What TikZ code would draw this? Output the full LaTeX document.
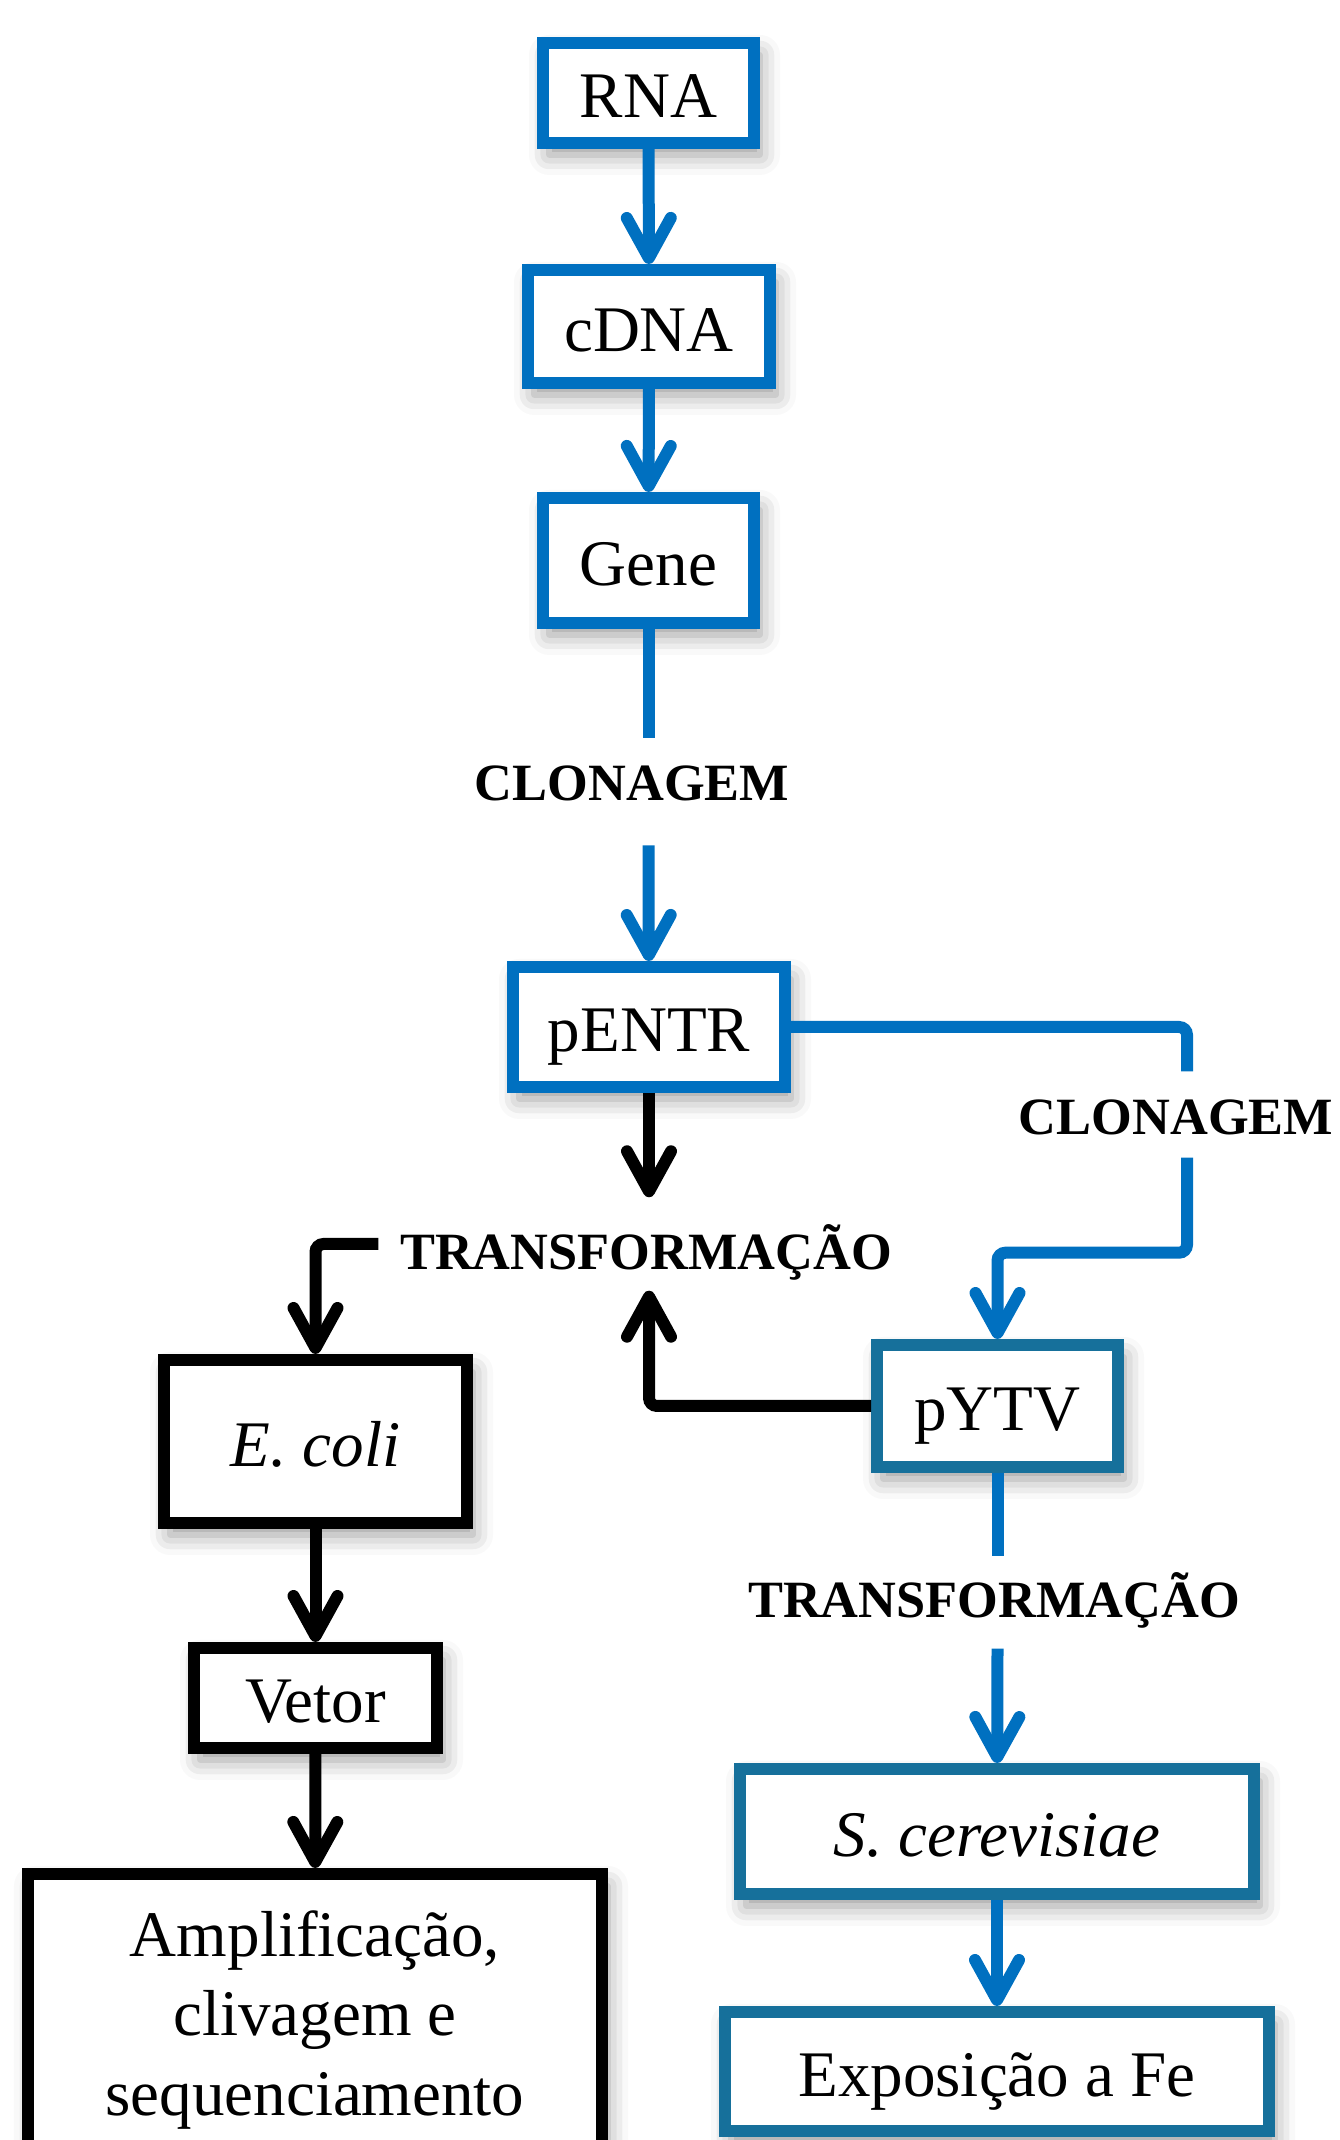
\documentclass[tikz,border=0pt]{standalone}
\usepackage{fontspec}
\setmainfont{Liberation Serif}
\usetikzlibrary{arrows.meta,positioning,calc,shadows.blur}
\definecolor{stepblue}{RGB}{0,112,192}
\definecolor{yeastblue}{RGB}{22,112,155}
\tikzset{
  stage/.style={draw,line width=1.2mm,fill=white,inner sep=0pt,align=center,
                text height=0.65cm,text depth=0.15cm,
                font=\fontsize{18.5}{22.5}\selectfont,
                blur shadow={shadow xshift=0.6mm,shadow yshift=-1.2mm,
                             shadow blur radius=2mm,shadow opacity=40}},
  bluestage/.style={stage,draw=stepblue},
  yeaststage/.style={stage,draw=yeastblue},
  blackstage/.style={stage,draw=black},
  tag/.style={font=\fontsize{14.9}{18}\selectfont\bfseries,anchor=base,
              inner xsep=2.1mm,inner ysep=0pt},
  flow/.style={draw=stepblue,line width=1.2mm,rounded corners=0.8mm},
  flowk/.style={flow,draw=black},
  into/.style={-{Straight Barb[length=4mm,width=4.4mm,round]}},
}

\begin{document}
\begin{tikzpicture}[x=1cm,y=1cm]
  \useasboundingbox (0,0) rectangle (13.39,21.40);
  \clip (0,0) rectangle (13.39,21.40);
  % main column
  \node[bluestage,minimum width=2.11cm,minimum height=1.00cm] (rna) at (6.485,20.47) {RNA};
  \node[bluestage,minimum width=2.42cm,minimum height=1.13cm] (cdna) at (6.49,18.135) {cDNA};
  \node[bluestage,minimum width=2.11cm,minimum height=1.25cm] (gene) at (6.485,15.795) {Gene};
  \node[tag,text height=0.624cm,text depth=0.436cm] (clonA) at (6.32,13.39) {CLONAGEM};
  \node[bluestage,minimum width=2.72cm,minimum height=1.20cm] (pentr) at (6.49,11.13) {pENTR};
  \node[tag,text height=0.63cm,text depth=0.22cm] (clonB) at (11.76,10.05) {CLONAGEM};
  \node[tag,text height=0.72cm,text depth=0.20cm] (trA) at (6.46,8.70) {TRANSFORMAÇÃO};
  % E. coli branch
  \node[blackstage,minimum width=3.03cm,minimum height=1.63cm] (ecoli) at (3.155,6.985) {\textit{E. coli}};
  \node[blackstage,minimum width=2.43cm,minimum height=1.00cm] (vetor) at (3.155,4.42) {Vetor};
  \node[blackstage,text height=2.24cm,minimum width=5.74cm,minimum height=2.73cm] (ampl) at (3.15,1.295)
    {Amplificação,\\ clivagem e\\ sequenciamento};
  % yeast branch
  \node[yeaststage,minimum width=2.41cm,minimum height=1.22cm] (pytv) at (9.975,7.34) {pYTV};
  \node[tag,text height=0.61cm,text depth=0.30cm] (trB) at (9.94,5.22) {TRANSFORMAÇÃO};
  \node[yeaststage,minimum width=5.14cm,minimum height=1.25cm] (scer) at (9.97,3.085) {\textit{S. cerevisiae}};
  \node[yeaststage,minimum width=5.44cm,minimum height=1.19cm] (expo) at (9.97,0.685) {Exposição a Fe};

  \draw[flow,into] (rna) -- (cdna);
  \draw[flow,into] (cdna) -- (gene);
  \draw[flow] (gene) -- (gene |- clonA.north);
  \draw[flow,into] (gene |- clonA.south) -- (pentr);
  \draw[flow] (pentr.east) -| ([xshift=1.1mm]clonB.north);
  \draw[flow,into] ([xshift=1.1mm]clonB.south) -- ++(0,-0.95) -| (pytv);
  \draw[flowk,into] (pentr) -- (pentr |- trA.north);
  \draw[flowk,into] (trA.west) -| (ecoli);
  \draw[flowk,into] (pytv) -| (pentr |- trA.south);
  \draw[flowk,into] (ecoli) -- (vetor);
  \draw[flowk,into] (vetor) -- (ampl);
  \draw[flow] (pytv) -- (pytv |- trB.north);
  \draw[flow,into] (pytv |- trB.south) -- (scer);
  \draw[flow,into] (scer) -- (expo);
\end{tikzpicture}
\end{document}
